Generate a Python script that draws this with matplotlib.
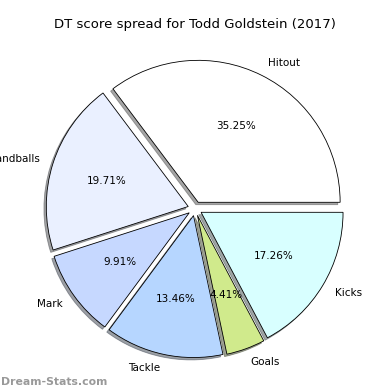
# DT score spread pie chart

import matplotlib
matplotlib.use("Agg")
import matplotlib.pyplot as plt

labels = ["Hitout", "Handballs", "Mark", "Tackle", "Goals", "Kicks"]
values = [35.25, 19.71, 9.91, 13.46, 4.41, 17.26]
colours = ["#ffffff", "#eaf0ff", "#c6d8ff", "#b6d6ff", "#d0ea8c", "#d8ffff"]
explode = [0.05, 0.05, 0.05, 0.05, 0.05, 0.05]

fig = plt.figure(figsize=(3.9, 3.9), dpi=100)
ax = fig.add_axes([0.045, 0.01, 0.91, 0.91])

ax.pie(values, labels=labels, colors=colours, explode=explode,
       autopct="%1.2f%%", shadow={"ox": -0.012, "oy": -0.012}, startangle=0,
       wedgeprops={"edgecolor": "black", "linewidth": 0.6},
       textprops={"fontsize": 7.5})
ax.set_aspect("equal")
ax.set_title("DT score spread for Todd Goldstein (2017)", fontsize=9.5, pad=1)

fig.text(0.002, 0.014, "Dream-Stats.com", fontsize=7.8, color="#999999",
         fontweight="bold")

fig.savefig("out.png", dpi=100)
